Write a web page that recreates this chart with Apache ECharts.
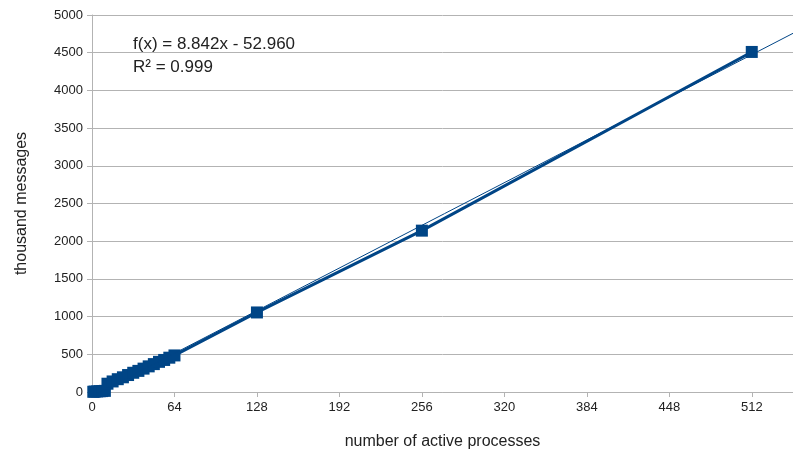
<!DOCTYPE html>
<html>
<head>
<meta charset="utf-8">
<script src="https://cdn.jsdelivr.net/npm/echarts@6/dist/echarts.min.js"></script>
<style>
  html, body { margin: 0; padding: 0; background: #fff; }
  #chart { width: 793px; height: 460px; }
</style>
</head>
<body>
<div id="chart"></div>
<script>
// Measured throughput by number of active processes
const processes = [1, 2, 4, 6, 8, 10, 12, 16, 20, 24, 28, 32, 36, 40, 44, 48, 52, 56, 60, 64, 128, 256, 512];
const messages  = [3, 5, 8, 10, 12, 15, 110, 140, 170, 195, 225, 255, 280, 310, 340, 370, 400, 425, 455, 485, 1055, 2140, 4510];

// Linear regression as stated in the annotation
const slope = 8.842;
const intercept = -52.960;
const rSquared = 0.999;
const trendRange = [0, 544];

const xTicks = { min: 0, max: 544, interval: 64 };
const yTicks = { min: 0, max: 5000, interval: 500 };

const blue = '#004586';
const font = '"Liberation Sans", Arial, sans-serif';

const points = processes.map((x, i) => [x, messages[i]]);
const trend = trendRange.map(x => [x, slope * x + intercept]);

const chart = echarts.init(document.getElementById('chart'), null, { renderer: 'canvas' });
chart.setOption({
  animation: false,
  textStyle: { fontFamily: font },
  grid: { left: 92, right: 0, top: 15, bottom: 68, containLabel: false },
  xAxis: {
    type: 'value',
    min: xTicks.min, max: xTicks.max, interval: xTicks.interval,
    name: 'number of active processes',
    nameLocation: 'middle',
    nameGap: 42,
    nameTextStyle: { fontSize: 16, color: '#222', fontFamily: font },
    axisLine: { show: true, lineStyle: { color: '#b3b3b3', width: 1 } },
    axisTick: { show: true, length: 5, lineStyle: { color: '#b3b3b3' } },
    axisLabel: { fontSize: 13, color: '#222', margin: 9, showMaxLabel: false, fontFamily: font },
    splitLine: { show: false }
  },
  yAxis: {
    type: 'value',
    min: yTicks.min, max: yTicks.max, interval: yTicks.interval,
    name: 'thousand messages',
    nameLocation: 'middle',
    nameGap: 62,
    nameTextStyle: { fontSize: 16, color: '#222', fontFamily: font },
    axisLine: { show: true, lineStyle: { color: '#b3b3b3', width: 1 } },
    axisTick: { show: true, length: 5, lineStyle: { color: '#b3b3b3' } },
    axisLabel: { fontSize: 13, color: '#222', margin: 9, fontFamily: font, formatter: v => String(v) },
    splitLine: { show: true, lineStyle: { color: '#b3b3b3', width: 1 } }
  },
  series: [
    {
      name: 'messages',
      type: 'line',
      data: points,
      symbol: 'rect',
      symbolSize: 12,
      itemStyle: { color: blue },
      lineStyle: { color: blue, width: 3 },
      z: 3
    },
    {
      name: 'trend',
      type: 'line',
      data: trend,
      symbol: 'none',
      clip: true,
      lineStyle: { color: blue, width: 1 },
      z: 4
    }
  ],
  graphic: [
    {
      type: 'text',
      left: 133, top: 36,
      style: { text: 'f(x) = ' + slope.toFixed(3) + 'x - ' + Math.abs(intercept).toFixed(3), fill: '#222', font: '17px ' + font }
    },
    {
      type: 'text',
      left: 133, top: 59,
      style: { text: 'R² = ' + rSquared.toFixed(3), fill: '#222', font: '17px ' + font }
    }
  ]
});
</script>
</body>
</html>
